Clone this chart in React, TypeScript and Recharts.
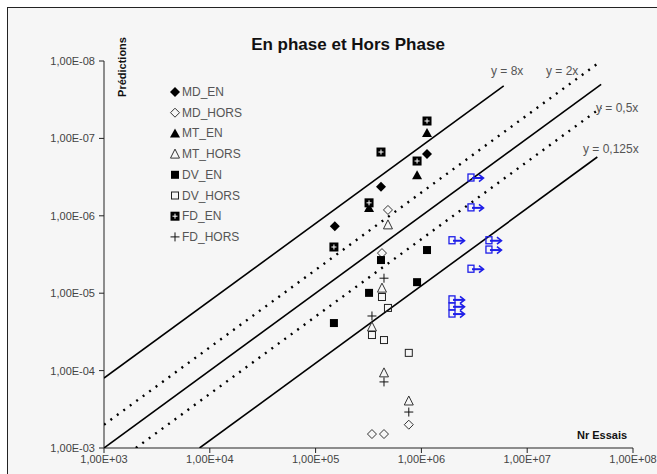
import React from "react";
import { Scatter, ScatterChart, XAxis, YAxis } from "recharts";

// axis ticks
const xTicks = [1e3, 1e4, 1e5, 1e6, 1e7, 1e8];
const yTicks = [1e-8, 1e-7, 1e-6, 1e-5, 1e-4, 1e-3];

// measured points (Nr essais, prédictions)
const mdEn = [
	{ x: 1.13e6, y: 1.59e-7 },
	{ x: 4.15e5, y: 4.2e-7 },
	{ x: 1.52e5, y: 1.36e-6 },
];
const mdHors = [
	{ x: 4.83e5, y: 8.4e-7 },
	{ x: 4.24e5, y: 3.03e-6 },
	{ x: 7.6e5, y: 5.0e-4 },
	{ x: 3.41e5, y: 6.6e-4 },
	{ x: 4.43e5, y: 6.6e-4 },
];
const mtEn = [
	{ x: 1.13e6, y: 8.5e-8 },
	{ x: 9.1e5, y: 3.0e-7 },
	{ x: 3.2e5, y: 7.9e-7 },
];
const mtHors = [
	{ x: 4.83e5, y: 1.31e-6 },
	{ x: 4.24e5, y: 8.6e-6 },
	{ x: 3.41e5, y: 2.73e-5 },
	{ x: 4.43e5, y: 1.07e-4 },
	{ x: 7.6e5, y: 2.47e-4 },
];
const dvEn = [
	{ x: 1.13e6, y: 2.77e-6 },
	{ x: 4.15e5, y: 3.73e-6 },
	{ x: 9.1e5, y: 7.2e-6 },
	{ x: 3.2e5, y: 9.9e-6 },
	{ x: 1.49e5, y: 2.43e-5 },
];
const dvHors = [
	{ x: 4.24e5, y: 1.12e-5 },
	{ x: 4.83e5, y: 1.55e-5 },
	{ x: 3.41e5, y: 3.47e-5 },
	{ x: 4.43e5, y: 4.03e-5 },
	{ x: 7.6e5, y: 5.9e-5 },
];
const fdEn = [
	{ x: 1.13e6, y: 5.96e-8 },
	{ x: 4.15e5, y: 1.5e-7 },
	{ x: 9.1e5, y: 1.96e-7 },
	{ x: 3.2e5, y: 6.8e-7 },
	{ x: 1.49e5, y: 2.53e-6 },
];
const fdHors = [
	{ x: 4.43e5, y: 6.4e-6 },
	{ x: 3.41e5, y: 1.97e-5 },
	{ x: 4.43e5, y: 1.4e-4 },
	{ x: 7.6e5, y: 3.43e-4 },
];
// non rompues (flèches bleues)
const runOuts = [
	{ x: 3.28e6, y: 3.25e-7 },
	{ x: 3.28e6, y: 7.9e-7 },
	{ x: 2.17e6, y: 2.1e-6 },
	{ x: 4.85e6, y: 2.1e-6 },
	{ x: 4.85e6, y: 2.77e-6 },
	{ x: 3.28e6, y: 4.9e-6 },
	{ x: 2.17e6, y: 1.22e-5 },
	{ x: 2.17e6, y: 1.5e-5 },
	{ x: 2.17e6, y: 1.86e-5 },
];

// droites y = kx (extrémités)
const line8 = [{ x: 1e3, y: 1.25e-4 }, { x: 6e6, y: 2.1e-8 }];
const line2 = [{ x: 1e3, y: 5e-4 }, { x: 5e7, y: 1e-8 }];
const line1 = [{ x: 1e3, y: 1e-3 }, { x: 5e7, y: 2e-8 }];
const line05 = [{ x: 2e3, y: 1e-3 }, { x: 5e7, y: 4e-8 }];
const line0125 = [{ x: 8e3, y: 1e-3 }, { x: 4.6e7, y: 1.74e-7 }];

const series = [
	{ name: "MD_EN", data: mdEn, kind: "diamond" },
	{ name: "MD_HORS", data: mdHors, kind: "diamondOpen" },
	{ name: "MT_EN", data: mtEn, kind: "tri" },
	{ name: "MT_HORS", data: mtHors, kind: "triOpen" },
	{ name: "DV_EN", data: dvEn, kind: "square" },
	{ name: "DV_HORS", data: dvHors, kind: "squareOpen" },
	{ name: "FD_EN", data: fdEn, kind: "squarePlus" },
	{ name: "FD_HORS", data: fdHors, kind: "plus" },
];

const fontFamily = "'Liberation Sans', Arial, sans-serif";

const fmtExp = (v: number) => {
	const e = Math.round(Math.log10(v));
	return `1,00E${e < 0 ? "-" : "+"}${String(Math.abs(e)).padStart(2, "0")}`;
};

function Marker({ kind, cx, cy }: { kind: string; cx: number; cy: number }) {
	switch (kind) {
		case "diamond":
			return <polygon points={`${cx},${cy - 5} ${cx + 5},${cy} ${cx},${cy + 5} ${cx - 5},${cy}`} fill="#000" />;
		case "diamondOpen":
			return (
				<polygon
					points={`${cx},${cy - 4.5} ${cx + 4.5},${cy} ${cx},${cy + 4.5} ${cx - 4.5},${cy}`}
					fill="none"
					stroke="#333"
					strokeWidth={1}
				/>
			);
		case "tri":
			return <polygon points={`${cx},${cy - 5} ${cx + 5},${cy + 4} ${cx - 5},${cy + 4}`} fill="#000" />;
		case "triOpen":
			return (
				<polygon
					points={`${cx},${cy - 5} ${cx + 4.5},${cy + 4} ${cx - 4.5},${cy + 4}`}
					fill="none"
					stroke="#333"
					strokeWidth={1}
				/>
			);
		case "square":
			return <rect x={cx - 4} y={cy - 4} width={8} height={8} fill="#000" />;
		case "squareOpen":
			return <rect x={cx - 3.5} y={cy - 3.5} width={7} height={7} fill="none" stroke="#222" strokeWidth={1} />;
		case "squarePlus":
			return (
				<g>
					<rect x={cx - 4.5} y={cy - 4.5} width={9} height={9} fill="#000" />
					<path d={`M${cx - 2.5},${cy} H${cx + 2.5} M${cx},${cy - 2.5} V${cy + 2.5}`} stroke="#fff" strokeWidth={1} />
				</g>
			);
		case "plus":
			return <path d={`M${cx - 4.5},${cy} H${cx + 4.5} M${cx},${cy - 4.5} V${cy + 4.5}`} stroke="#111" strokeWidth={1} />;
		case "runout":
			return (
				<g stroke="#1f1fe8" fill="none" strokeWidth={1.3}>
					<rect x={cx - 8} y={cy - 4} width={6} height={7} />
					<path d={`M${cx - 4},${cy} H${cx + 7}`} strokeWidth={2} />
					<path d={`M${cx + 3},${cy - 3.5} L${cx + 7.5},${cy} L${cx + 3},${cy + 3.5}`} strokeWidth={1.6} />
				</g>
			);
		default:
			return <g />;
	}
}

const solid = { stroke: "#000", strokeWidth: 1.6 };
const dotted = { stroke: "#000", strokeWidth: 2.4, strokeDasharray: "2 6" };

export default function App() {
	return (
		<div style={{ position: "absolute", left: 0, top: 0, width: 657, height: 474, background: "#fff", overflow: "hidden" }}>
			<div
				style={{
					position: "absolute",
					left: 7,
					top: 7,
					width: 670,
					height: 480,
					background: "#f6f6f6",
					border: "1px solid #222",
				}}
			/>
			<div style={{ position: "absolute", left: 0, top: 0 }}>
				<ScatterChart width={657} height={474} margin={{ top: 61, right: 24, left: 44, bottom: 6 }}>
					<XAxis
						type="number"
						dataKey="x"
						scale="log"
						domain={[1e3, 1e8]}
						ticks={xTicks}
						allowDataOverflow
						tickFormatter={fmtExp}
						stroke="#222"
						tickSize={5}
						height={20}
						tick={{ fill: "#444", fontSize: 11, fontFamily }}
						interval={0}
					/>
					<YAxis
						type="number"
						dataKey="y"
						scale="log"
						domain={[1e-8, 1e-3]}
						ticks={yTicks}
						allowDataOverflow
						reversed
						tickFormatter={fmtExp}
						stroke="#222"
						tickSize={5}
						tickMargin={4}
						width={60}
						tick={{ fill: "#444", fontSize: 11, fontFamily }}
						interval={0}
					/>
					<Scatter data={line8} line={solid} shape={() => <g />} legendType="none" isAnimationActive={false} />
					<Scatter data={line2} line={dotted} shape={() => <g />} legendType="none" isAnimationActive={false} />
					<Scatter data={line1} line={solid} shape={() => <g />} legendType="none" isAnimationActive={false} />
					<Scatter data={line05} line={dotted} shape={() => <g />} legendType="none" isAnimationActive={false} />
					<Scatter data={line0125} line={solid} shape={() => <g />} legendType="none" isAnimationActive={false} />
					{series.map((s) => (
						<Scatter
							key={s.name}
							name={s.name}
							data={s.data}
							isAnimationActive={false}
							shape={(p: any) => <Marker kind={s.kind} cx={p.cx} cy={p.cy} />}
						/>
					))}
					<Scatter
						data={runOuts}
						legendType="none"
						isAnimationActive={false}
						shape={(p: any) => <Marker kind="runout" cx={p.cx} cy={p.cy} />}
					/>
				</ScatterChart>
			</div>
			<svg width={657} height={474} style={{ position: "absolute", left: 0, top: 0, pointerEvents: "none" }} fontFamily={fontFamily}>
				<text x={348} y={50} textAnchor="middle" fontSize={17} fontWeight="bold" fill="#111">
					En phase et Hors Phase
				</text>
				<text transform="translate(126,67) rotate(-90)" textAnchor="middle" fontSize={11} fontWeight="bold" fill="#111">
					Prédictions
				</text>
				<text x={577} y={439} fontSize={11} fontWeight="bold" fill="#111">
					Nr Essais
				</text>
				<g fontSize={12} fill="#555">
					<text x={491} y={75}>y = 8x</text>
					<text x={546} y={75}>y = 2x</text>
					<text x={596} y={112}>y = 0,5x</text>
					<text x={583} y={153}>y = 0,125x</text>
				</g>
				{series.map((s, i) => (
					<g key={s.name}>
						<Marker kind={s.kind} cx={175} cy={92 + i * 20.7} />
						<text x={182} y={96 + i * 20.7} fontSize={12} fill="#555">
							{s.name}
						</text>
					</g>
				))}
			</svg>
		</div>
	);
}
